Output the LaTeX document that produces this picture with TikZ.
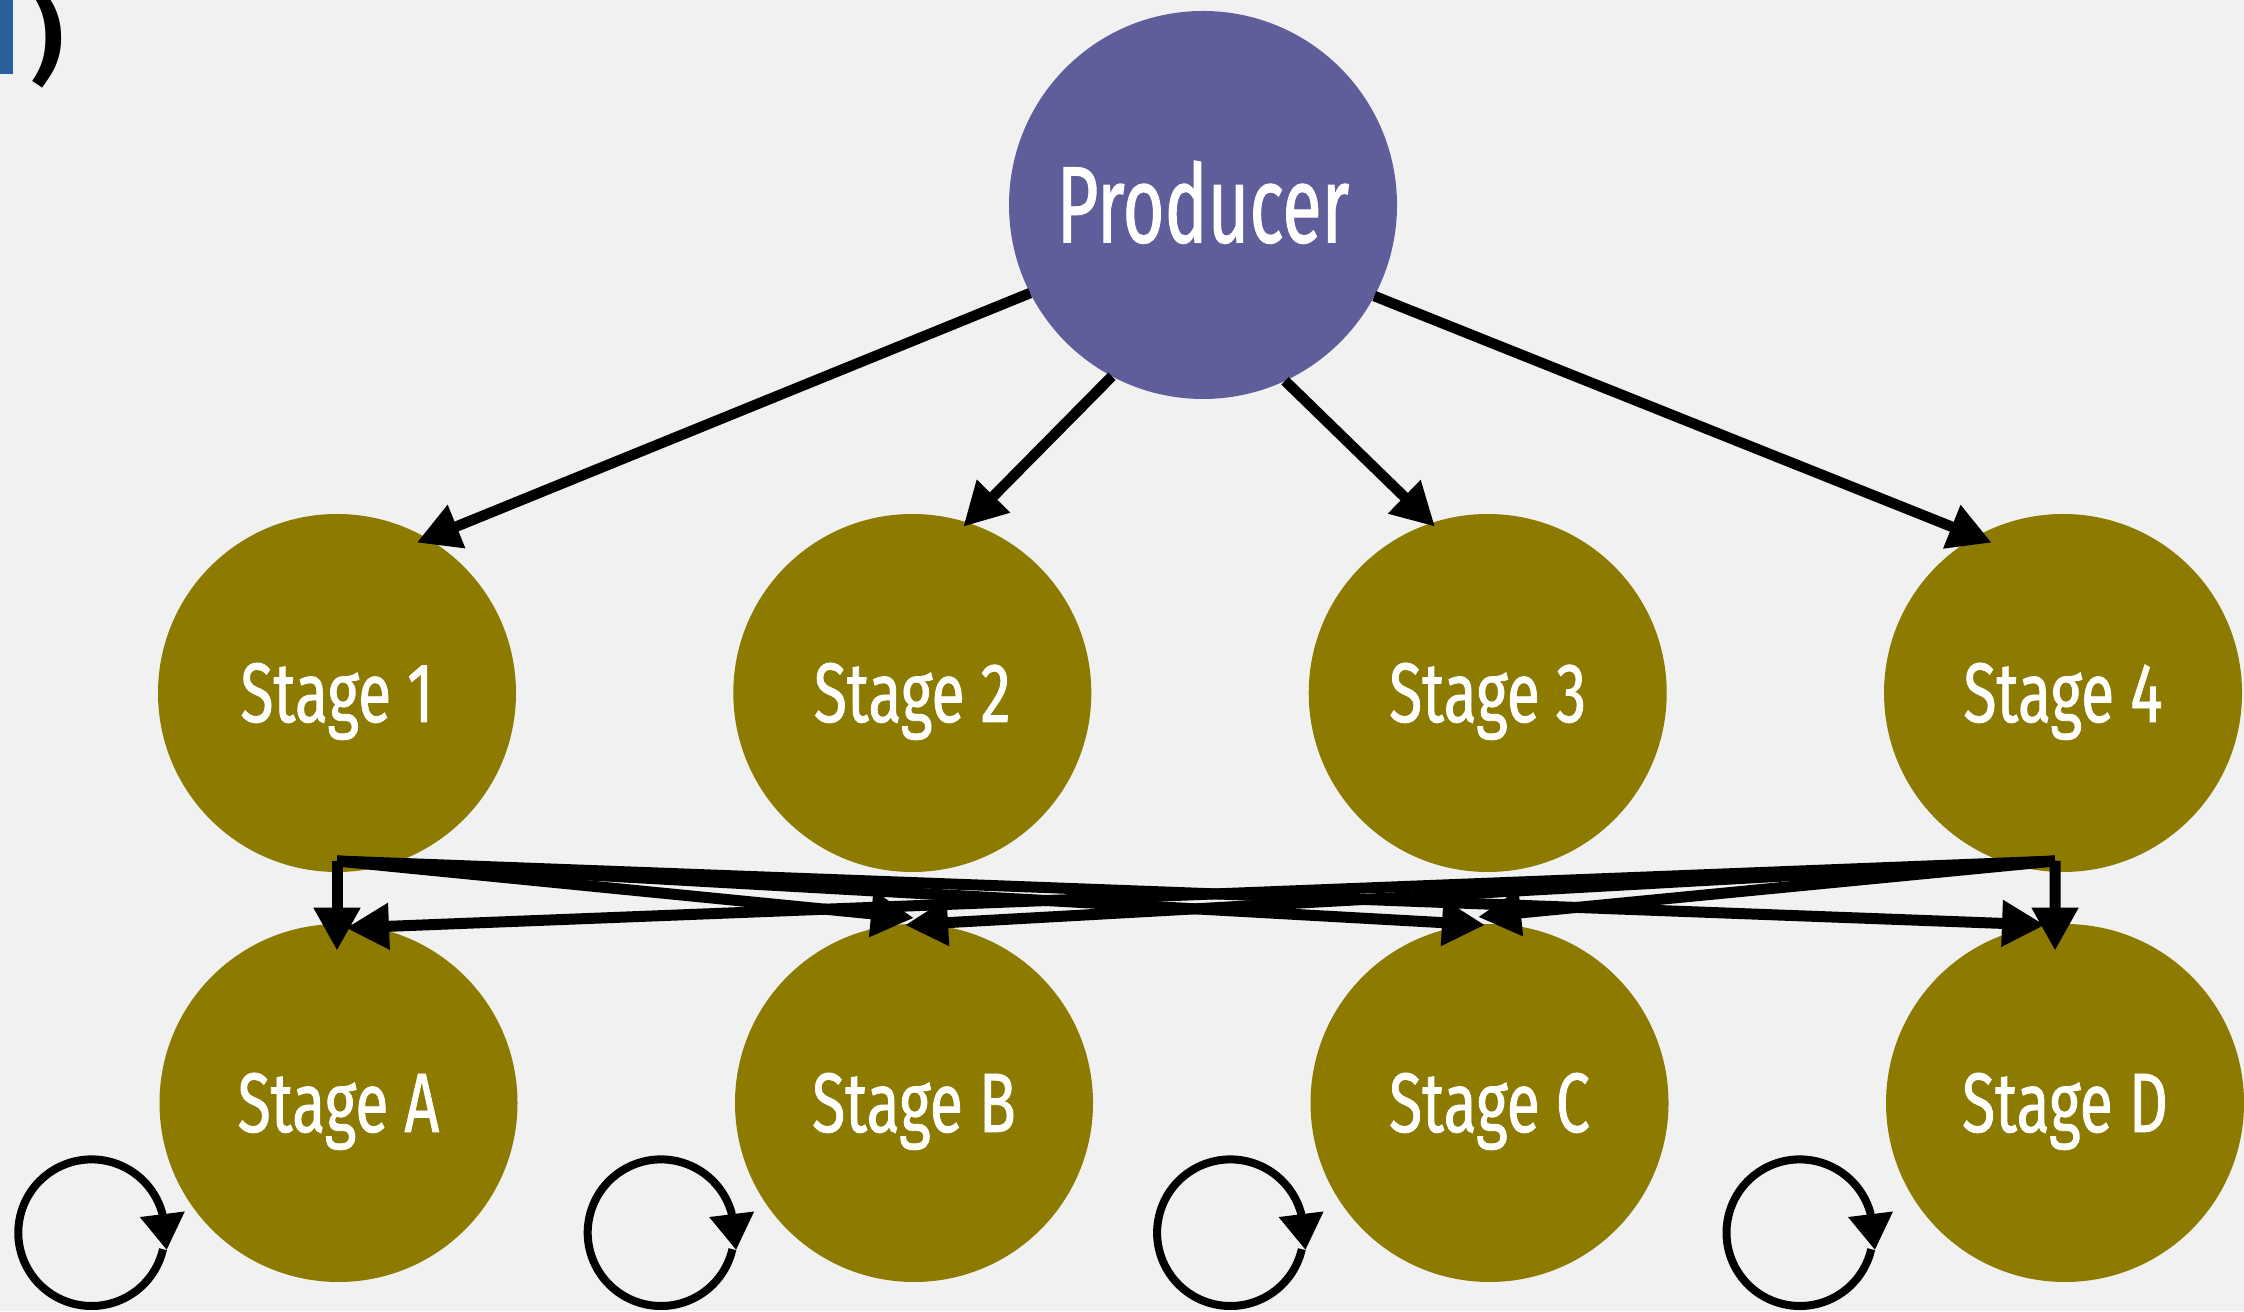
\documentclass[tikz,border=0pt]{standalone}
\usepackage{fontspec}
\setmainfont{Fira Sans}
\newfontfamily\labelfont[FakeStretch=0.72,FakeBold=0.9]{Fira Sans}
\newfontfamily\titlefont[FakeStretch=0.66,FakeBold=0.9]{Fira Sans}
\usetikzlibrary{arrows.meta,calc}

\definecolor{pagebg}{HTML}{F1F1F1}
\definecolor{prodfill}{HTML}{5F5E9B}
\definecolor{stagefill}{HTML}{8D7A00}
\definecolor{slideblue}{HTML}{2C5F9E}

\tikzset{
  bubble/.style={circle, inner sep=0pt, outer sep=0pt, text=white},
  stagenode/.style={bubble, fill=stagefill, minimum size=3.58cm,
    font=\labelfont\fontsize{24}{24}\selectfont,
    text height=0.58cm, text depth=0pt},
  prodnode/.style={bubble, fill=prodfill, minimum size=3.88cm,
    font=\titlefont\fontsize{31}{31}\selectfont,
    text height=0.75cm, text depth=0pt},
  bigtip/.style={-{Triangle[length=0.43cm,width=0.44cm]}},
  flow/.style={bigtip, line width=0.105cm},
  fan/.style={bigtip, line width=0.11cm},
  selfloop/.style={line width=0.08cm, -{Triangle[length=0.36cm,width=0.43cm]}},
}

\begin{document}
\begin{tikzpicture}
\useasboundingbox (0,0) rectangle (22.44,13.11);
\fill[pagebg] (0,0) rectangle (22.44,13.11);

% edge of the previous slide element
\fill[slideblue] (0,13.11) rectangle (0.133,12.37);
\node[inner sep=0pt, anchor=south, font=\bfseries\fontsize{28}{28}\selectfont] (paren) at (0.47,12.22) {)};

% producer and the two rows of stages
\node[prodnode] (prod) at (12.03,11.06) {Producer};

\node[stagenode] (s1) at (3.37,6.18) {Stage 1};
\node[stagenode] (s2) at (9.123,6.18) {Stage 2};
\node[stagenode] (s3) at (14.877,6.18) {Stage 3};
\node[stagenode] (s4) at (20.63,6.18) {Stage 4};

\node[stagenode] (sA) at (3.385,2.08) {Stage A};
\node[stagenode] (sB) at (9.14,2.08) {Stage B};
\node[stagenode] (sC) at (14.895,2.08) {Stage C};
\node[stagenode] (sD) at (20.65,2.08) {Stage D};

% producer fans out to the first row
\draw[flow] (prod.207.3) -- ($(s1.center)+(0.797,1.503)$);
\draw[flow] (prod.242.4) -- ($(s2.center)+(0.51,1.663)$);
\draw[flow] (prod.295.5) -- ($(s3.center)+(-0.527,1.663)$);
\draw[flow] (prod.332.8) -- ($(s4.center)+(-0.713,1.503)$);

% stage 1 and stage 4 feed every stage of the second row
\draw[fan] ($(s1.center)+(0,-1.68)$) -- ($(sA.center)+(-0.015,1.523)$);
\draw[fan] ($(s1.center)+(0,-1.68)$) -- ($(sB.center)+(0,1.85)$);
\draw[fan] ($(s1.center)+(0,-1.68)$) -- ($(sC.center)+(-0.045,1.78)$);
\draw[fan] ($(s1.center)+(0,-1.68)$) -- ($(sD.center)+(-0.2,1.78)$);

\draw[fan] ($(s4.center)+(-0.08,-1.68)$) -- ($(sA.center)+(0.075,1.75)$);
\draw[fan] ($(s4.center)+(-0.08,-1.68)$) -- ($(sB.center)+(-0.09,1.78)$);
\draw[fan] ($(s4.center)+(-0.08,-1.68)$) -- ($(sC.center)+(-0.115,1.86)$);
\draw[fan] ($(s4.center)+(-0.08,-1.68)$) -- ($(sD.center)+(-0.10,1.523)$);

% self loops beside the second row
\coordinate (loopA) at (0.916,0.783);
\coordinate (loopB) at (6.610,0.783);
\coordinate (loopC) at (12.304,0.783);
\coordinate (loopD) at (17.998,0.783);
\foreach \c in {loopA,loopB,loopC,loopD}{
  \draw[selfloop] ($(\c)+(-13:0.733)$) arc[start angle=-13, end angle=-344, radius=0.733]
    -- ($(\c)+(0.751,-0.173)$);
}
\end{tikzpicture}
\end{document}
